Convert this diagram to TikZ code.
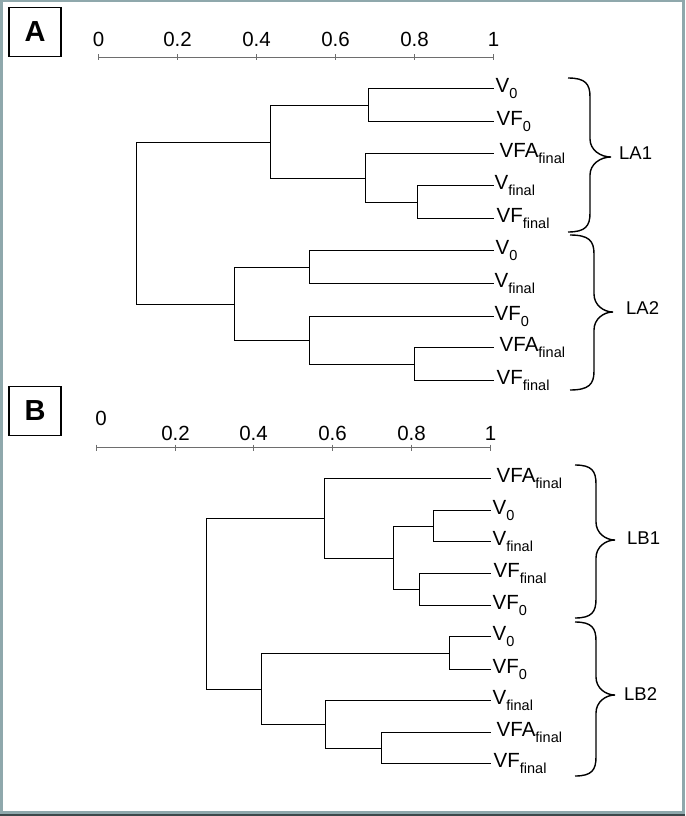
\documentclass[tikz,border=0pt]{standalone}
\usepackage{fontspec}
\setmainfont{Liberation Sans}
\definecolor{framec}{RGB}{143,168,172}
\definecolor{framedark}{RGB}{60,72,74}
\definecolor{axisc}{RGB}{110,110,110}
\newcommand{\fin}[1]{#1\raisebox{-0.27em}{\fontsize{14.5}{14.5}\selectfont final}}
\newcommand{\zer}[1]{#1\raisebox{-0.27em}{\fontsize{14.5}{14.5}\selectfont 0}}
\newcommand{\wbrace}[6]{%
  \draw[bracestyle] (#1,#4) .. controls (#1+0.8*#2-0.8*#1,#4) and (#2,#4+6) .. (#2,#4+19)
    -- (#2,#5-18) .. controls (#2,#5-7) and (#2+0.5*#3-0.5*#2,#5) .. (#3,#5)
    .. controls (#2+0.5*#3-0.5*#2,#5) and (#2,#5+7) .. (#2,#5+18)
    -- (#2,#6-19) .. controls (#2,#6-6) and (#1+0.8*#2-0.8*#1,#6) .. (#1,#6);}
\begin{document}
\begin{tikzpicture}[x=1pt,y=-1pt,
  dend/.style={line width=1.8pt, black},
  axisline/.style={line width=1pt, axisc},
  leaf/.style={anchor=base west, inner sep=0pt, font=\fontsize{20.5}{24}\selectfont},
  ticklab/.style={anchor=base, inner sep=0pt, font=\fontsize{20.5}{24}\selectfont},
  grouplab/.style={anchor=west, inner sep=0pt, font=\fontsize{18.5}{22}\selectfont},
  panel/.style={draw, line width=1.5pt, minimum width=52pt, minimum height=49pt, inner sep=0pt, font=\fontsize{29}{32}\selectfont\bfseries},
  bracestyle/.style={line width=1.4pt, black}]
\path[use as bounding box] (0,0) rectangle (685,816);
% frame
\fill[framec] (0,0) rectangle (685,816);
\fill[white] (3,2) rectangle (682,811);
\fill[framedark] (0,814) rectangle (685,816);

% panel labels
\node[panel] (pA) at (35,32) {A};
\node[panel] (pB) at (35,411) {B};

% ===== axis A =====
\coordinate (axA0) at (98.5,57.5);
\coordinate (axA1) at (493.5,57.5);
\draw[axisline] (axA0) -- (axA1);
\foreach \x/\t [count=\i] in {98.5/0,177.5/0.2,256.5/0.4,335.5/0.6,414.5/0.8,493.5/1}{
  \draw[axisline] (\x,54.5) -- (\x,60.5);
  \node[ticklab] (tA\i) at (\x,46.5) {\t};
}

% ===== axis B =====
\coordinate (axB0) at (96.5,447.5);
\coordinate (axB1) at (490.5,447.5);
\draw[axisline] (axB0) -- (axB1);
\foreach \x in {96.5,175.5,253.5,332.5,411.5,490.5}{
  \draw[axisline] (\x,444.5) -- (\x,450.5);
}
\node[ticklab] (tB1) at (101,425) {0};
\foreach \x/\t [count=\i from 2] in {175.5/0.2,253.5/0.4,332.5/0.6,411.5/0.8,490.5/1}{
  \node[ticklab] (tB\i) at (\x,440) {\t};
}

% ===== dendrogram A =====
\coordinate (a1) at (493.5,88.5);
\coordinate (a2) at (493.5,121.5);
\coordinate (a3) at (493.5,153.5);
\coordinate (a4) at (493.5,185.5);
\coordinate (a5) at (493.5,218.5);
\coordinate (a6) at (493.5,250.5);
\coordinate (a7) at (493.5,283.5);
\coordinate (a8) at (493.5,316.5);
\coordinate (a9) at (493.5,347.5);
\coordinate (a10) at (493.5,380.5);
\coordinate (nA12) at (368.5,105.5);
\coordinate (nA45) at (417.5,202.5);
\coordinate (nA345) at (365.5,178.5);
\coordinate (nA1) at (270.5,142.5);
\coordinate (nA67) at (309.5,267.5);
\coordinate (nA910) at (414.5,364.5);
\coordinate (nA8910) at (309.5,340.5);
\coordinate (nA2) at (234.5,304.5);
\coordinate (rootA) at (136.5,222.5);

\draw[dend] (nA1) -| (rootA) |- (nA2);
\draw[dend] (nA12) -| (nA1) |- (nA345);
\draw[dend] (a1) -| (nA12) |- (a2);
\draw[dend] (a3) -| (nA345) |- (nA45);
\draw[dend] (a4) -| (nA45) |- (a5);
\draw[dend] (nA67) -| (nA2) |- (nA8910);
\draw[dend] (a6) -| (nA67) |- (a7);
\draw[dend] (a8) -| (nA8910) |- (nA910);
\draw[dend] (a9) -| (nA910) |- (a10);

\node[leaf] (la1) at ([xshift=2pt,yshift=-4pt]a1) {\zer{V}};
\node[leaf] (la2) at ([xshift=3pt,yshift=-4pt]a2) {\zer{VF}};
\node[leaf] (la3) at ([xshift=6pt,yshift=-4pt]a3) {\fin{VFA}};
\node[leaf] (la4) at ([xshift=1pt,yshift=-4pt]a4) {\fin{V}};
\node[leaf] (la5) at ([xshift=3pt,yshift=-4pt]a5) {\fin{VF}};
\node[leaf] (la6) at ([xshift=2pt,yshift=-4pt]a6) {\zer{V}};
\node[leaf] (la7) at ([xshift=1pt,yshift=-4pt]a7) {\fin{V}};
\node[leaf] (la8) at ([xshift=1pt,yshift=-4pt]a8) {\zer{VF}};
\node[leaf] (la9) at ([xshift=6pt,yshift=-4pt]a9) {\fin{VFA}};
\node[leaf] (la10) at ([xshift=3pt,yshift=-4pt]a10) {\fin{VF}};

% ===== dendrogram B =====
\coordinate (b1) at (490.5,478.5);
\coordinate (b2) at (490.5,510.5);
\coordinate (b3) at (490.5,541.5);
\coordinate (b4) at (490.5,573.5);
\coordinate (b5) at (490.5,605.5);
\coordinate (b6) at (490.5,636.5);
\coordinate (b7) at (490.5,669.5);
\coordinate (b8) at (490.5,700.5);
\coordinate (b9) at (490.5,732.5);
\coordinate (b10) at (490.5,763.5);
\coordinate (nB23) at (433.5,526.5);
\coordinate (nB45) at (419.5,589.5);
\coordinate (nB2345) at (393.5,558.5);
\coordinate (nB1) at (324.5,518.5);
\coordinate (nB67) at (449.5,653.5);
\coordinate (nB910) at (381.5,748.5);
\coordinate (nB8910) at (325.5,724.5);
\coordinate (nB2) at (261.5,689.5);
\coordinate (rootB) at (206.5,603.5);

\draw[dend] (nB1) -| (rootB) |- (nB2);
\draw[dend] (b1) -| (nB1) |- (nB2345);
\draw[dend] (nB23) -| (nB2345) |- (nB45);
\draw[dend] (b2) -| (nB23) |- (b3);
\draw[dend] (b4) -| (nB45) |- (b5);
\draw[dend] (nB67) -| (nB2) |- (nB8910);
\draw[dend] (b6) -| (nB67) |- (b7);
\draw[dend] (b8) -| (nB8910) |- (nB910);
\draw[dend] (b9) -| (nB910) |- (b10);

\node[leaf] (lb1) at ([xshift=6pt,yshift=-4pt]b1) {\fin{VFA}};
\node[leaf] (lb2) at ([xshift=2pt,yshift=-4pt]b2) {\zer{V}};
\node[leaf] (lb3) at ([xshift=2pt,yshift=-4pt]b3) {\fin{V}};
\node[leaf] (lb4) at ([xshift=3pt,yshift=-4pt]b4) {\fin{VF}};
\node[leaf] (lb5) at ([xshift=2pt,yshift=-4pt]b5) {\zer{VF}};
\node[leaf] (lb6) at ([xshift=2pt,yshift=-4pt]b6) {\zer{V}};
\node[leaf] (lb7) at ([xshift=2pt,yshift=-4pt]b7) {\zer{VF}};
\node[leaf] (lb8) at ([xshift=2pt,yshift=-4pt]b8) {\fin{V}};
\node[leaf] (lb9) at ([xshift=6pt,yshift=-4pt]b9) {\fin{VFA}};
\node[leaf] (lb10) at ([xshift=3pt,yshift=-4pt]b10) {\fin{VF}};

% ===== braces and group labels =====
\wbrace{568}{590}{611}{78}{157}{232}
\wbrace{570}{594}{613}{235}{312}{390}
\wbrace{575}{596}{615}{465}{540}{618}
\wbrace{575}{596}{615}{622}{695}{776}
\node[grouplab] (gLA1) at (619,153) {LA1};
\node[grouplab] (gLA2) at (626,308) {LA2};
\node[grouplab] (gLB1) at (627,538) {LB1};
\node[grouplab] (gLB2) at (624,694) {LB2};
\end{tikzpicture}
\end{document}
